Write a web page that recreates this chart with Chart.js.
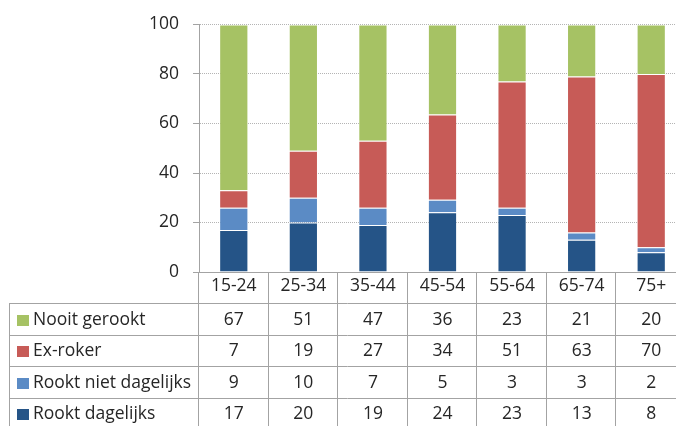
<!DOCTYPE html>
<html>
<head>
<meta charset="utf-8">
<script src="https://cdn.jsdelivr.net/npm/chart.js@4"></script>
<style>
  html, body { margin: 0; padding: 0; background: #fff; overflow: hidden; width: 676px; height: 426px; }
  canvas { display: block; }
</style>
</head>
<body>
<canvas id="chart" width="686" height="426"></canvas>
<script>
const categories = ["15-24", "25-34", "35-44", "45-54", "55-64", "65-74", "75+"];
// 45-54 (table shows the rounded values)
const nooitGerookt = [67, 51, 47, 36.4, 23, 21, 20];
const exRoker = [7, 19, 27, 34.4, 51, 63, 70];
const rooktNietDagelijks = [9, 10, 7, 5.1, 3, 3, 2];
const rooktDagelijks = [17, 20, 19, 24.1, 23, 13, 8];
const yTicks = [0, 20, 40, 60, 80, 100];

const fontFamily = "'Open Sans', sans-serif";
const fontSize = 17.5;
const textColor = "#262626";
const lineColor = "#a3a3a3";
const headerH = 31;

// table rows below the chart, drawn from the datasets (top row = top of stack)
const dataTable = {
  id: "dataTable",
  afterDraw(chart) {
    const ctx = chart.ctx;
    const xs = chart.scales.x;
    const area = chart.chartArea;
    const top = area.bottom + headerH;
    const rowH = 31.5;
    const left = 9;
    const colW = (xs.right - xs.left) / categories.length;
    const rows = chart.data.datasets.slice().reverse();

    ctx.save();
    ctx.strokeStyle = lineColor;
    ctx.lineWidth = 1;
    ctx.beginPath();
    for (let r = 0; r <= rows.length; r++) {
      const y = Math.round(top + r * rowH) + 0.5;
      ctx.moveTo(left, y);
      ctx.lineTo(xs.right, y);
    }
    for (let i = 1; i <= categories.length; i++) {
      const x = Math.round(xs.left + i * colW) - 0.5;
      ctx.moveTo(x, area.bottom);
      ctx.lineTo(x, chart.height);
    }
    const x0 = Math.round(xs.left) - 0.5;
    ctx.moveTo(x0, area.bottom);
    ctx.lineTo(x0, chart.height);
    ctx.moveTo(left + 0.5, top);
    ctx.lineTo(left + 0.5, chart.height);
    ctx.stroke();

    ctx.font = fontSize + "px " + fontFamily;
    ctx.textBaseline = "middle";
    rows.forEach((ds, r) => {
      const cy = top + r * rowH + rowH / 2 + 1;
      ctx.fillStyle = ds.backgroundColor;
      ctx.fillRect(17, Math.round(cy - 5), 12, 11);
      ctx.fillStyle = textColor;
      ctx.textAlign = "left";
      ctx.fillText(ds.label, 33, cy);
      ctx.textAlign = "center";
      ds.data.forEach((v, i) => {
        ctx.fillText(String(Math.round(v)), xs.getPixelForValue(i), cy);
      });
    });
    ctx.restore();
  }
};

new Chart(document.getElementById("chart"), {
  type: "bar",
  data: {
    labels: categories,
    datasets: [
      { label: "Rookt dagelijks", data: rooktDagelijks, backgroundColor: "#255487" },
      { label: "Rookt niet dagelijks", data: rooktNietDagelijks, backgroundColor: "#5b8bc5" },
      { label: "Ex-roker", data: exRoker, backgroundColor: "#c75b57" },
      { label: "Nooit gerookt", data: nooitGerookt, backgroundColor: "#a6c264" }
    ]
  },
  options: {
    responsive: false,
    animation: false,
    devicePixelRatio: 1,
    layout: { padding: { top: 23, bottom: 123, left: 0, right: 0 } },
    datasets: {
      bar: {
        barPercentage: 0.42,
        categoryPercentage: 1,
        borderWidth: 1,
        borderColor: "rgba(255,255,255,0.25)"
      }
    },
    plugins: {
      legend: { display: false },
      tooltip: { enabled: false }
    },
    scales: {
      x: {
        stacked: true,
        grid: { display: false, drawTicks: false },
        border: { display: true, color: lineColor },
        ticks: {
          color: textColor,
          padding: 4,
          font: { family: fontFamily, size: fontSize }
        },
        afterFit: (s) => { s.height = headerH; }
      },
      y: {
        stacked: true,
        min: 0,
        max: 100,
        afterBuildTicks: (s) => { s.ticks = yTicks.map((v) => ({ value: v })); },
        grid: { color: "#b4b4b4", tickLength: 6, tickColor: lineColor },
        border: { display: true, color: lineColor, dash: [1, 1] },
        ticks: {
          color: textColor,
          padding: 14,
          font: { family: fontFamily, size: fontSize }
        },
        afterFit: (s) => { s.width = 199; }
      }
    }
  },
  plugins: [dataTable]
});
</script>
</body>
</html>
